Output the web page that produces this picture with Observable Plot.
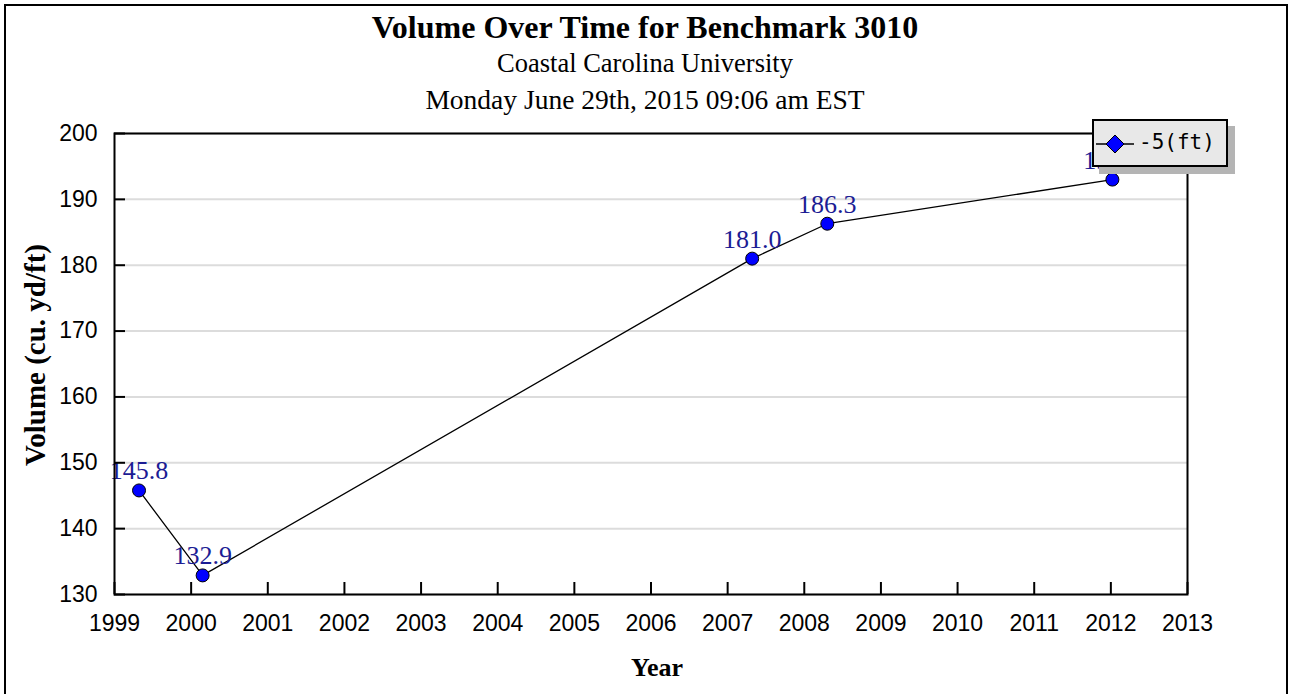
<!DOCTYPE html>
<html>
<head>
<meta charset="utf-8">
<script src="https://cdn.jsdelivr.net/npm/d3@7"></script>
<script src="https://cdn.jsdelivr.net/npm/@observablehq/plot@0.6"></script>
<style>
  html, body { margin: 0; padding: 0; background: #fff; }
  #page { position: relative; width: 1290px; height: 694px; overflow: hidden; }
  #border { position: absolute; left: 4px; top: 4px; width: 1280px; height: 720px; border: 2px solid #000; border-bottom: none; }
  .t { position: absolute; left: 0; width: 1290px; text-align: center; font-family: "Liberation Serif", "Times New Roman", serif; color: #000; white-space: nowrap; }
  #title { top: 8px; font-size: 32px; font-weight: bold; line-height: 38px; }
  #sub1 { top: 47px; font-size: 26.5px; line-height: 32px; }
  #sub2 { top: 84px; font-size: 27.5px; line-height: 32px; }
  #chart { position: absolute; left: 0; top: 110px; }
  #legend { position: absolute; left: 1092px; top: 119px; width: 136px; height: 48px; box-sizing: border-box;
            border: 2px solid #000; background: #e8e8e8; box-shadow: 7px 7px 0 #b4b4b4; }
  #legend svg { position: absolute; left: 2px; top: 10px; }
  #legend span { position: absolute; left: 45px; top: 9px; font-family: "DejaVu Sans Mono", monospace; font-size: 21px; line-height: 24px; color: #000; }
</style>
</head>
<body>
<div id="page">
  <div id="border"></div>
  <div class="t" id="title">Volume Over Time for Benchmark 3010</div>
  <div class="t" id="sub1">Coastal Carolina University</div>
  <div class="t" id="sub2">Monday June 29th, 2015 09:06 am EST</div>
  <div id="chart"></div>
  <div id="legend">
    <svg width="40" height="26" viewBox="0 0 40 26">
      <line x1="0" y1="13" x2="38" y2="13" stroke="#000" stroke-width="1.5"></line>
      <polygon points="19,4 28,13 19,22 10,13" fill="#0000ff" stroke="#000" stroke-width="1"></polygon>
    </svg>
    <span>-5(ft)</span>
  </div>
</div>
<script>
// Data
const years   = [1999.32, 2000.15, 2007.32, 2008.30, 2012.02];
const volumes = [145.8, 132.9, 181.0, 186.3, 193.0];
const valueLabels = ["145.8", "132.9", "181.0", "186.3", "193.0"];
const xTicks = [1999, 2000, 2001, 2002, 2003, 2004, 2005, 2006, 2007, 2008, 2009, 2010, 2011, 2012, 2013];
const yTicks = [130, 140, 150, 160, 170, 180, 190, 200];
const xTitle = "Year";
const yTitle = "Volume (cu. yd/ft)";

const data = years.map((x, i) => ({x, y: volumes[i], label: valueLabels[i]}));

const chart = Plot.plot({
  width: 1290,
  height: 584,
  marginTop: 23,
  marginBottom: 100,
  marginLeft: 114,
  marginRight: 103,
  style: {background: "transparent", overflow: "visible"},
  x: {domain: [1999, 2013]},
  y: {domain: [130, 200]},
  marks: [
    Plot.gridY(yTicks, {stroke: "#dcdcdc", strokeOpacity: 1, strokeWidth: 2}),
    Plot.line(data, {x: "x", y: "y", stroke: "#000", strokeWidth: 1.3}),
    Plot.dot(data, {x: "x", y: "y", r: 6.5, fill: "#0000ff", stroke: "#000", strokeWidth: 1}),
    Plot.text(data, {x: "x", y: "y", text: "label", lineAnchor: "bottom", dy: -11, fill: "#1c1c94",
      fontSize: 26, fontFamily: "Liberation Serif"}),
    Plot.frame({stroke: "#000", strokeWidth: 2}),
    Plot.axisX(xTicks, {tickFormat: d => String(d), tickSize: -12, tickPadding: 32, fontSize: 23,
      fontFamily: "Liberation Sans", stroke: "#000", strokeWidth: 2, label: null}),
    Plot.axisY(yTicks, {tickSize: -11, tickPadding: 28, fontSize: 23,
      fontFamily: "Liberation Sans", stroke: "#000", strokeWidth: 2, label: null}),
    Plot.text([xTitle], {frameAnchor: "bottom", lineAnchor: "middle", textAnchor: "middle", dx: 6, dy: 73,
      fontSize: 26, fontWeight: "bold", fontFamily: "Liberation Serif", fill: "#000"}),
    Plot.text([yTitle], {frameAnchor: "left", textAnchor: "middle", lineAnchor: "middle", rotate: -90,
      dx: -79, dy: -9, fontSize: 29, fontWeight: "bold", fontFamily: "Liberation Serif", fill: "#000"})
  ]
});
document.getElementById("chart").appendChild(chart);
</script>
</body>
</html>
